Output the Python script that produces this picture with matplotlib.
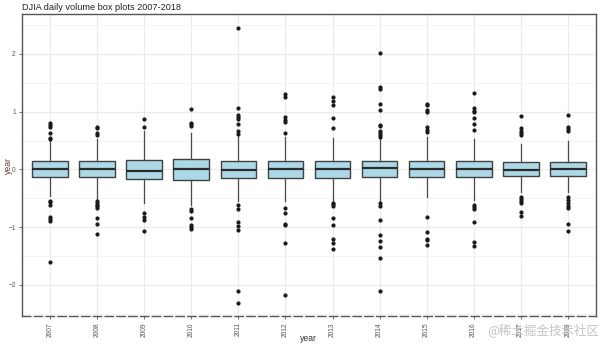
import matplotlib
matplotlib.use("Agg")
import matplotlib.pyplot as plt
import numpy as np

# yearly box plot summaries of standardised DJIA daily volume
years = ["2007", "2008", "2009", "2010", "2011", "2012",
         "2013", "2014", "2015", "2016", "2017", "2018"]
q1 = [-0.13, -0.13, -0.16, -0.18, -0.15, -0.15, -0.15, -0.14, -0.14, -0.13, -0.12, -0.12]
med = [0.00, 0.01, -0.03, 0.00, -0.01, 0.01, 0.00, 0.03, 0.01, 0.01, -0.01, 0.01]
q3 = [0.14, 0.15, 0.17, 0.18, 0.14, 0.15, 0.15, 0.14, 0.15, 0.15, 0.12, 0.12]
whislo = [-0.46, -0.51, -0.58, -0.62, -0.55, -0.55, -0.54, -0.55, -0.48, -0.53, -0.40, -0.40]
whishi = [0.52, 0.52, 0.67, 0.63, 0.60, 0.56, 0.54, 0.55, 0.57, 0.52, 0.44, 0.49]
outliers = [
    [0.53, 0.55, 0.63, 0.74, 0.77, 0.80, -0.55, -0.57, -0.61, -0.83, -0.86, -0.89, -1.60],
    [0.60, 0.63, 0.71, 0.74, -0.54, -0.58, -0.61, -0.64, -0.67, -0.85, -0.95, -1.12],
    [0.74, 0.88, -0.75, -0.82, -0.87, -1.07],
    [0.76, 0.78, 0.80, 1.05, -0.69, -0.72, -0.84, -0.97, -1.00, -1.03],
    [0.61, 0.67, 0.79, 0.88, 0.91, 0.95, 1.06, 2.45,
     -0.62, -0.68, -0.91, -0.98, -1.05, -2.11, -2.32],
    [0.63, 0.82, 0.86, 0.90, 1.25, 1.30,
     -0.67, -0.75, -0.94, -0.97, -1.27, -2.17],
    [0.72, 0.89, 1.11, 1.19, 1.25,
     -0.58, -0.60, -0.63, -0.85, -0.97, -1.21, -1.27, -1.38],
    [0.57, 0.60, 0.63, 0.67, 0.75, 0.77, 1.03, 1.13, 1.39, 1.43, 2.02,
     -0.59, -0.63, -0.88, -1.14, -1.24, -1.35, -1.54, -2.10],
    [0.64, 0.69, 0.73, 0.99, 1.03, 1.11, 1.14, -0.82, -1.09, -1.20, -1.22, -1.31],
    [0.68, 0.78, 0.89, 1.00, 1.02, 1.06, 1.33,
     -0.62, -0.65, -0.68, -0.91, -1.25, -1.33],
    [0.59, 0.63, 0.67, 0.71, 0.92, -0.48, -0.52, -0.55, -0.58, -0.74, -0.81],
    [0.66, 0.70, 0.74, 0.94, -0.48, -0.53, -0.59, -0.64, -0.66, -0.94, -1.07],
]

stats = []
for i, yr in enumerate(years):
    stats.append({"label": yr, "q1": q1[i], "med": med[i], "q3": q3[i],
                  "whislo": whislo[i], "whishi": whishi[i], "fliers": outliers[i]})

plt.rcParams["font.family"] = ["Liberation Sans", "DejaVu Sans"]

fig = plt.figure(figsize=(6.02, 3.45), dpi=100)
ax = fig.add_axes([0.0365, 0.084, 0.9535, 0.875])

pos = np.arange(1, len(years) + 1)
ax.bxp(stats, positions=pos, widths=0.76, patch_artist=True, showcaps=False,
       boxprops=dict(facecolor="#add8e6", edgecolor="#404040", linewidth=1.0),
       medianprops=dict(color="#2b2b2b", linewidth=1.6),
       whiskerprops=dict(color="#4a4a4a", linewidth=0.9),
       flierprops=dict(marker="o", markersize=2.0, markerfacecolor="#1a1a1a",
                       markeredgecolor="#1a1a1a", linestyle="none"),
       zorder=3)

ax.set_xlim(0.4, 12.6)
ax.set_ylim(-2.54, 2.69)
ax.set_yticks([-2, -1, 0, 1, 2])
ax.set_yticks([-2.5, -1.5, -0.5, 0.5, 1.5, 2.5], minor=True)
ax.set_xticks(pos)
ax.set_xticklabels(years, rotation=90)

ax.grid(True, which="major", color="#ebebeb", linewidth=0.9, zorder=0)
ax.grid(True, which="minor", axis="y", color="#f3f3f3", linewidth=0.7, zorder=0)
ax.set_axisbelow(True)

ax.tick_params(axis="both", which="major", length=2.5, width=0.6, color="#555555",
               labelsize=4.8, labelcolor="#555555", pad=2)
ax.tick_params(axis="both", which="minor", length=0)

for side in ["top", "left", "right"]:
    ax.spines[side].set_color("#555555")
    ax.spines[side].set_linewidth(1.0)
ax.spines["bottom"].set_color("#555555")
ax.spines["bottom"].set_linewidth(1.0)
ax.spines["bottom"].set_linestyle((0, (6, 2.5)))

ax.set_xlabel("year", fontsize=6.2, color="#333333", va="center")
ax.xaxis.set_label_coords(0.5, -0.076)
ax.set_ylabel("year", fontsize=6.2, color="#6b3a2e", va="center")
ax.yaxis.set_label_coords(-0.024, 0.5)
ax.set_title("DJIA daily volume box plots 2007-2018", fontsize=6.6, loc="left",
             color="#222222", pad=3)

fig.text(0.995, 0.043, "@稀土掘金技术社区", ha="right", va="center", fontsize=9,
         color="#c4c4c4", family=["Noto Sans CJK SC", "DejaVu Sans"])

fig.savefig("out.png", dpi=100)
plt.close()
